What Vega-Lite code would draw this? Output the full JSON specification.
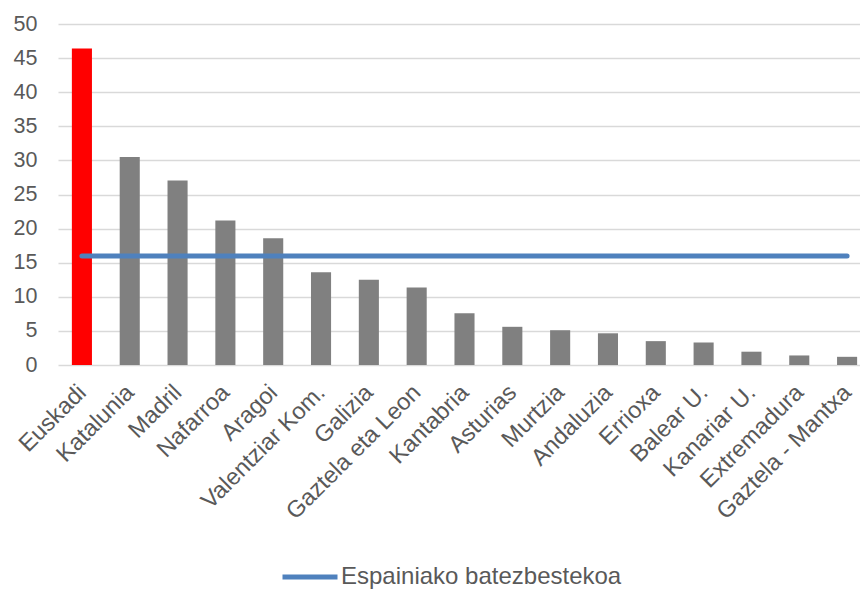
{
  "$schema": "https://vega.github.io/schema/vega-lite/v6.json",
  "width": 802,
  "height": 341,
  "autosize": {"type": "none"},
  "padding": {"left": 58, "top": 24, "right": 0, "bottom": 227},
  "background": "white",
  "config": {
    "view": {"stroke": null},
    "font": "Liberation Sans",
    "axis": {"labelColor": "#595959", "labelFont": "Liberation Sans", "labelFontSize": 21.5, "domain": false, "ticks": false, "tickSize": 0, "title": null, "gridColor": "#d9d9d9", "gridWidth": 1.3}
  },
  "data": {
    "values": [
      {"region": "Euskadi", "value": 46.4, "avg": 16.0},
      {"region": "Katalunia", "value": 30.5, "avg": 16.0},
      {"region": "Madril", "value": 27.05, "avg": 16.0},
      {"region": "Nafarroa", "value": 21.2, "avg": 16.0},
      {"region": "Aragoi", "value": 18.6, "avg": 16.0},
      {"region": "Valentziar Kom.", "value": 13.6, "avg": 16.0},
      {"region": "Galizia", "value": 12.5, "avg": 16.0},
      {"region": "Gaztela eta Leon", "value": 11.35, "avg": 16.0},
      {"region": "Kantabria", "value": 7.6, "avg": 16.0},
      {"region": "Asturias", "value": 5.6, "avg": 16.0},
      {"region": "Murtzia", "value": 5.1, "avg": 16.0},
      {"region": "Andaluzia", "value": 4.65, "avg": 16.0},
      {"region": "Errioxa", "value": 3.5, "avg": 16.0},
      {"region": "Balear U.", "value": 3.3, "avg": 16.0},
      {"region": "Kanariar U.", "value": 1.95, "avg": 16.0},
      {"region": "Extremadura", "value": 1.4, "avg": 16.0},
      {"region": "Gaztela - Mantxa", "value": 1.2, "avg": 16.0}
    ]
  },
  "encoding": {
    "x": {
      "field": "region",
      "type": "nominal",
      "sort": null,
      "scale": {"range": [0, 813], "paddingInner": 0.58, "paddingOuter": 0.29},
      "axis": {"labelAngle": -45, "labelAlign": "right", "labelBaseline": "top", "labelPadding": 15, "labelOffset": -8, "labelFontSize": 23.5, "grid": false, "labelOverlap": false, "labelLimit": 0}
    }
  },
  "layer": [
    {
      "mark": {"type": "bar"},
      "encoding": {
        "y": {
          "field": "value",
          "type": "quantitative",
          "scale": {"domain": [0, 50], "nice": false},
          "axis": {"values": [0, 5, 10, 15, 20, 25, 30, 35, 40, 45, 50], "labelPadding": 21, "grid": true, "labelOverlap": false}
        },
        "color": {"condition": {"test": "datum.region === 'Euskadi'", "value": "#FF0000"}, "value": "#808080"}
      }
    },
    {
      "mark": {"type": "line", "strokeWidth": 5, "strokeCap": "round"},
      "encoding": {
        "y": {
          "field": "avg",
          "type": "quantitative",
          "axis": {"values": [0, 5, 10, 15, 20, 25, 30, 35, 40, 45, 50], "labelPadding": 21, "grid": true, "labelOverlap": false}
        },
        "color": {
          "datum": "Espainiako batezbestekoa",
          "scale": {"range": ["#4F81BD"]},
          "legend": {
            "orient": "none",
            "legendX": 222,
            "legendY": 523,
            "title": null,
            "symbolType": "stroke",
            "symbolSize": 3025,
            "symbolStrokeWidth": 5,
            "labelFontSize": 24,
            "labelColor": "#595959",
            "labelFont": "Liberation Sans",
            "labelOffset": 1,
            "labelLimit": 0,
            "padding": 0
          }
        }
      }
    }
  ]
}
